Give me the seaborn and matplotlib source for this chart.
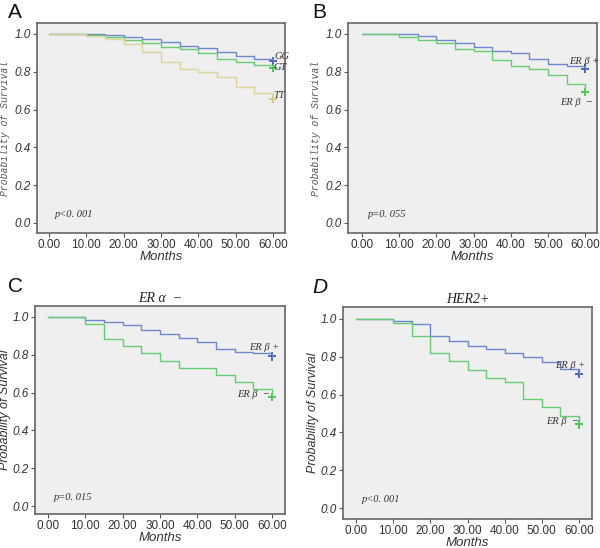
import matplotlib
matplotlib.use("Agg")
import matplotlib.pyplot as plt
import pandas as pd
import seaborn as sns

# step times (months) for every curve, last point is the censor mark at 60
months = [0, 10, 15, 20, 25, 30, 35, 40, 45, 50, 55, 60]

# panel A: genotype
a_gg = [1.0, 0.998, 0.996, 0.984, 0.974, 0.958, 0.938, 0.926, 0.905, 0.885, 0.866, 0.855]
a_gt = [1.0, 0.995, 0.984, 0.970, 0.950, 0.933, 0.919, 0.898, 0.868, 0.852, 0.836, 0.820]
a_tt = [1.0, 0.991, 0.975, 0.947, 0.906, 0.852, 0.815, 0.800, 0.772, 0.720, 0.690, 0.656]

# panel B: all cases
b_pos = [1.0, 1.0, 0.988, 0.970, 0.952, 0.929, 0.910, 0.900, 0.868, 0.843, 0.831, 0.817]
b_neg = [1.0, 0.984, 0.968, 0.952, 0.922, 0.908, 0.864, 0.831, 0.817, 0.785, 0.737, 0.691]

# panel C: ER alpha negative
c_pos = [1.0, 0.982, 0.974, 0.956, 0.930, 0.912, 0.888, 0.868, 0.833, 0.817, 0.807, 0.791]
c_neg = [1.0, 0.961, 0.882, 0.845, 0.807, 0.768, 0.729, 0.729, 0.692, 0.654, 0.617, 0.578]

# panel D: HER2 positive
d_pos = [1.0, 0.991, 0.974, 0.912, 0.884, 0.859, 0.842, 0.822, 0.798, 0.771, 0.734, 0.710]
d_neg = [1.0, 0.977, 0.912, 0.822, 0.776, 0.732, 0.687, 0.669, 0.576, 0.533, 0.488, 0.442]

xticks = [0, 10, 20, 30, 40, 50, 60]
yticks = [0.0, 0.2, 0.4, 0.6, 0.8, 1.0]

BLUE = "#6f86d0"
GREEN = "#66cc70"
TAN = "#dcd49a"
BLUE_MK = "#2f4fb8"
GREEN_MK = "#2fbf3a"
TAN_MK = "#cfc27a"
SERIF = ["Liberation Serif", "DejaVu Serif"]

sns.set_theme(style="white")
plt.rcParams["font.family"] = ["Liberation Sans", "DejaVu Sans"]

fig = plt.figure(figsize=(6.0, 5.48), dpi=100)

panels = [
    dict(letter="A", italic_letter=False, title=None, pos=[0.0617, 0.575, 0.4133, 0.383],
         ylim=(-0.053, 1.058), xlim=(-3.2, 63.2), mono_ylabel=True, pval="p<0. 001",
         letter_xy=(8, 18),
         curves=[("GG", a_gg, BLUE, BLUE_MK), ("GT", a_gt, GREEN, GREEN_MK), ("TT", a_tt, TAN, TAN_MK)]),
    dict(letter="B", italic_letter=False, title=None, pos=[0.58, 0.575, 0.415, 0.383],
         ylim=(-0.053, 1.058), xlim=(-3.77, 63.2), mono_ylabel=True, pval="p=0. 055",
         letter_xy=(312, 18),
         curves=[("ER β +", b_pos, BLUE, BLUE_MK), ("ER β  −", b_neg, GREEN, GREEN_MK)]),
    dict(letter="C", italic_letter=False, title="ER α  −", pos=[0.0583, 0.062, 0.4167, 0.3796],
         ylim=(-0.042, 1.058), xlim=(-3.48, 63.5), mono_ylabel=False, pval="p=0. 015",
         letter_xy=(8, 292),
         curves=[("ER β +", c_pos, BLUE, BLUE_MK), ("ER β  −", c_neg, GREEN, GREEN_MK)]),
    dict(letter="D", italic_letter=True, title="HER2+", pos=[0.5717, 0.0529, 0.415, 0.3869],
         ylim=(-0.058, 1.063), xlim=(-3.5, 63.5), mono_ylabel=False, pval="p<0. 001",
         letter_xy=(312, 293),
         curves=[("ER β +", d_pos, BLUE, BLUE_MK), ("ER β  −", d_neg, GREEN, GREEN_MK)]),
]

# label offsets (x, y in data units) relative to censor mark
label_offsets = {
    "A": [(0.5, 0.025), (0.0, 0.0), (0.0, 0.02)],
    "B": [(-4.2, 0.035), (-6.6, -0.055)],
    "C": [(-6.2, 0.045), (-9.2, 0.01)],
    "D": [(-6.4, 0.045), (-8.8, 0.015)],
}

for p in panels:
    ax = fig.add_axes(p["pos"])
    ax.set_facecolor("#efefef")
    rows = []
    for name, vals, _, _ in p["curves"]:
        for t, s in zip(months, vals):
            rows.append({"Months": t, "Survival": s, "Group": name})
    df = pd.DataFrame(rows)
    pal = {name: c for name, _, c, _ in p["curves"]}
    sns.lineplot(data=df, x="Months", y="Survival", hue="Group", palette=pal,
                 estimator=None, sort=False, drawstyle="steps-post",
                 linewidth=1.0, legend=False, ax=ax)
    cens = df[df["Months"] == 60]
    mk_pal = {name: m for name, _, _, m in p["curves"]}
    sns.scatterplot(data=cens, x="Months", y="Survival", hue="Group", palette=mk_pal,
                    marker="+", s=35, linewidth=1.2, legend=False, ax=ax)

    for (name, vals, _, _), (dx, dy) in zip(p["curves"], label_offsets[p["letter"]]):
        ax.text(60 + dx, vals[-1] + dy, name, fontsize=7.5, style="italic",
                family=SERIF, color="#333333", ha="left", va="center")

    ax.text(1.5, 0.03, p["pval"], fontsize=7.5, style="italic", family=SERIF, color="#333333")

    ax.set_xlim(*p["xlim"])
    ax.set_ylim(*p["ylim"])
    ax.set_xticks(xticks)
    ax.set_xticklabels([f"{t:.2f}" for t in xticks], fontsize=8.5, color="#333333")
    ax.set_yticks(yticks)
    ax.set_yticklabels([f"{t:.1f}" for t in yticks], fontsize=8.5, style="italic", color="#333333")
    ax.tick_params(axis="both", direction="out", length=3, width=0.8, color="#555555", pad=1.5,
                   left=True, bottom=True)
    for sp in ax.spines.values():
        sp.set_color("#666666")
        sp.set_linewidth(1.2)

    ax.set_xlabel("Months", fontsize=9.5, style="italic", color="#333333", labelpad=0)
    if p["mono_ylabel"]:
        ax.set_ylabel("Probability of Survival", fontsize=7, style="italic",
                      family=["Liberation Mono", "DejaVu Sans Mono"], color="#555555", labelpad=3)
    else:
        ax.set_ylabel("Probability of Survival", fontsize=9, style="italic", color="#333333",
                      labelpad=1)

    if p["title"]:
        ax.set_title(p["title"], fontsize=10, style="italic", family=SERIF,
                     color="#222222", pad=3)

    lx, ly = p["letter_xy"]
    fig.text(lx / 600, 1 - ly / 548, p["letter"], fontsize=15,
             style="italic" if p["italic_letter"] else "normal", color="#111111",
             ha="left", va="baseline")

fig.savefig("out.png", dpi=100)
